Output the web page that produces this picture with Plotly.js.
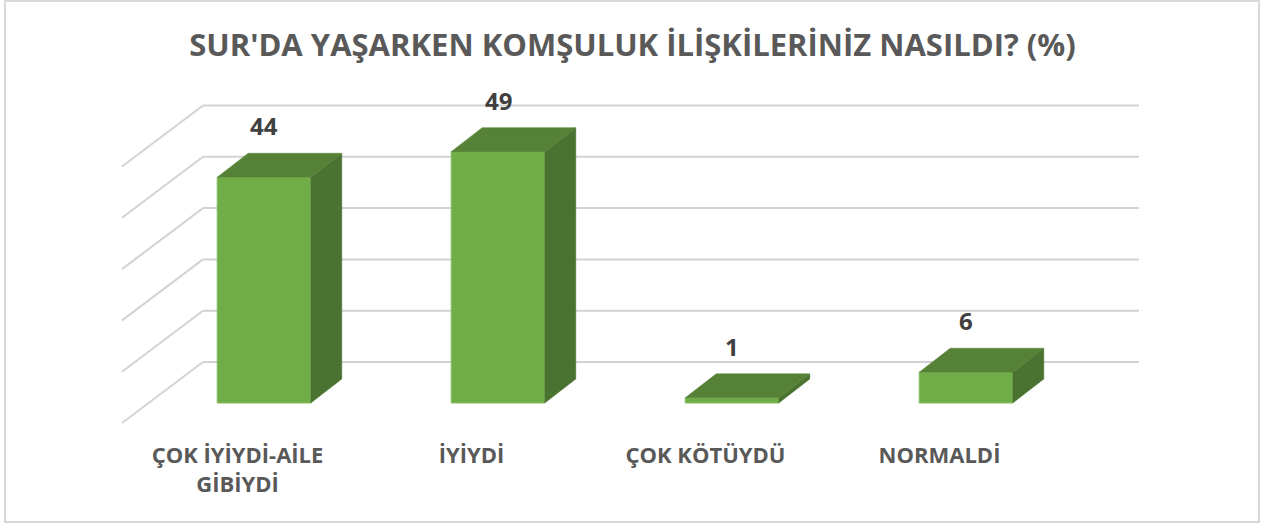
<!DOCTYPE html>
<html>
<head>
<meta charset="utf-8">
<script src="https://cdn.plot.ly/plotly-3.0.1.min.js"></script>
<style>
  html, body { margin: 0; padding: 0; background: #ffffff; }
  #wrap { position: relative; width: 1270px; height: 529px; }
  #chart { position: absolute; left: 0; top: 0; width: 1270px; height: 529px; }
  #frame { position: absolute; left: 4px; top: 0px; width: 1252px; height: 519px;
           border: 2px solid #d9d9d9; pointer-events: none; }
</style>
</head>
<body>
<div id="wrap"><div id="chart"></div><div id="frame"></div></div>
<script>
// ---- data ----
const categories = ["ÇOK İYİYDİ-AİLE<br>GİBİYDİ", "İYİYDİ", "ÇOK KÖTÜYDÜ", "NORMALDİ"];
const values = [44, 49, 1, 6];
const gridValues = [0, 10, 20, 30, 40, 50];
const titleText = "SUR'DA YAŞARKEN KOMŞULUK İLİŞKİLERİNİZ NASILDI? (%)";

// ---- geometry (pixel scale of the oblique projection) ----
const W = 1270, H = 529;
const mL = 100, mR = 110, mT = 90, mB = 89;
const pxPerCat = 234;      // px between category centres
const pxPerUnit = 5.13;    // px per value unit
const x0px = 264;          // pixel of first category centre (front plane)
const y0px = 403;          // pixel of value 0 (front plane of bars)
const xr = [(mL - x0px) / pxPerCat, (W - mR - x0px) / pxPerCat];
const yr = [(y0px - (H - mB)) / pxPerUnit, (y0px - mT) / pxPerUnit];

const barW = 0.40;                    // front face width in category units
const depthX = 31 / pxPerCat;         // bar depth shift (right)
const depthY = 24 / pxPerUnit;        // bar depth shift (up)
const floorX = -26.5 / pxPerCat;      // front edge of floor relative to bars
const floorY = -20 / pxPerUnit;
const wallY = 41 / pxPerUnit;         // back wall relative to bars
const wallLeft = (203 - x0px) / pxPerCat;
const wallRight = (1139 - x0px) / pxPerCat;
const sideFront = (122 - x0px) / pxPerCat;

const xs = categories.map((c, i) => i);

const traces = [];
// side faces and top faces
xs.forEach((x, i) => {
  const v = values[i];
  const r = x + barW / 2, l = x - barW / 2;
  traces.push({
    type: 'scatter', mode: 'lines', fill: 'toself',
    x: [r, r + depthX, r + depthX, r, r],
    y: [0, depthY, v + depthY, v, 0],
    fillcolor: '#4a7230', line: { color: '#4a7230', width: 0.5 },
    hoverinfo: 'skip', showlegend: false
  });
  traces.push({
    type: 'scatter', mode: 'lines', fill: 'toself',
    x: [l, r, r + depthX, l + depthX, l],
    y: [v, v, v + depthY, v + depthY, v],
    fillcolor: '#558236', line: { color: '#558236', width: 0.5 },
    hoverinfo: 'skip', showlegend: false
  });
});
// front faces
traces.push({
  type: 'bar', x: xs, y: values, width: barW,
  marker: { color: '#70ad47', line: { color: '#86bd63', width: 1 } },
  hoverinfo: 'skip', showlegend: false
});

// data labels
const annotations = xs.map((x, i) => ({
  xref: 'x', yref: 'y', x: x, y: values[i] + depthY,
  text: String(values[i]), showarrow: false, xanchor: 'center', yanchor: 'bottom',
  yshift: 9,
  font: { family: 'Open Sans', size: 24, color: '#404040', weight: 700 }
}));

// gridlines on back and side walls
const shapes = [];
gridValues.forEach(g => {
  shapes.push({ type: 'line', layer: 'below', xref: 'x', yref: 'y',
    x0: wallLeft, x1: wallRight, y0: g + wallY, y1: g + wallY,
    line: { color: '#d3d3d3', width: 2 } });
  shapes.push({ type: 'line', layer: 'below', xref: 'x', yref: 'y',
    x0: sideFront, x1: wallLeft, y0: g + floorY, y1: g + wallY,
    line: { color: '#d3d3d3', width: 2 } });
});

const layout = {
  width: W, height: H,
  margin: { l: mL, r: mR, t: mT, b: mB },
  paper_bgcolor: '#ffffff', plot_bgcolor: 'rgba(0,0,0,0)',
  title: { text: titleText, x: 0.498, xanchor: 'center', y: 1 - 45 / H, yanchor: 'middle',
    yref: 'container',
    font: { family: 'Open Sans', size: 31, color: '#595959', weight: 700 } },
  xaxis: { range: xr, showgrid: false, zeroline: false, showline: false, ticks: '',
    tickmode: 'array', tickvals: xs.map(x => x + floorX), ticktext: categories,
    tickfont: { family: 'Open Sans', size: 22, color: '#595959', weight: 700 },
    fixedrange: true },
  yaxis: { range: yr, showgrid: false, zeroline: false, showline: false,
    showticklabels: false, ticks: '', fixedrange: true },
  shapes: shapes,
  annotations: annotations,
  showlegend: false
};

Plotly.newPlot('chart', traces, layout, { displayModeBar: false, staticPlot: true });
</script>
</body>
</html>
